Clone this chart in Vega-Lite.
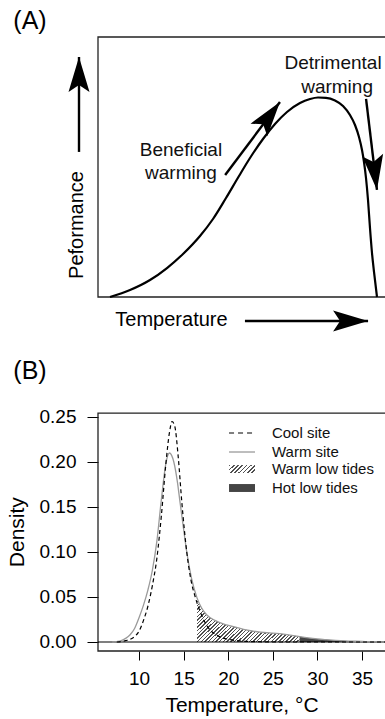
{
  "$schema": "https://vega.github.io/schema/vega-lite/v6.json",
  "width": 287,
  "height": 614,
  "autosize": {"type": "none"},
  "padding": {"left": 98, "top": 37, "right": 0, "bottom": 68},
  "config": {"font": "Liberation Sans", "view": {"stroke": null}, "text": {"font": "Liberation Sans"}},
  "datasets": {
    "boxA": [{"x": 0, "x2": 110, "y": 0, "y2": 100}],
    "curveA": [
      {"x": 4.18, "y": 0}, {"x": 11.15, "y": 2.69}, {"x": 18.12, "y": 6.54}, {"x": 24.04, "y": 11.15},
      {"x": 29.62, "y": 16.54}, {"x": 35.54, "y": 23.46}, {"x": 40.07, "y": 30.0}, {"x": 44.6, "y": 38.08},
      {"x": 49.13, "y": 46.54}, {"x": 52.96, "y": 53.46}, {"x": 57.49, "y": 60.77}, {"x": 61.67, "y": 66.54},
      {"x": 65.85, "y": 71.15}, {"x": 70.38, "y": 74.62}, {"x": 73.87, "y": 76.15}, {"x": 76.66, "y": 76.73},
      {"x": 79.44, "y": 76.62}, {"x": 82.58, "y": 75.58}, {"x": 85.37, "y": 73.46}, {"x": 87.8, "y": 70.0},
      {"x": 89.55, "y": 66.15}, {"x": 90.94, "y": 61.54}, {"x": 91.99, "y": 56.54}, {"x": 92.68, "y": 51.92},
      {"x": 93.38, "y": 45.77}, {"x": 94.08, "y": 37.31}, {"x": 94.77, "y": 26.54}, {"x": 95.47, "y": 16.92},
      {"x": 96.17, "y": 9.62}, {"x": 97.21, "y": 0}
    ],
    "arrowsA": [
      {"x": -6.62, "y": 55.8, "x2": -6.62, "y2": 92.3},
      {"x": 51.2, "y": -9.23, "x2": 94.1, "y2": -9.23},
      {"x": 44.3, "y": 46.9, "x2": 63.4, "y2": 75},
      {"x": 93.4, "y": 76.2, "x2": 97.2, "y2": 41.2}
    ],
    "headsA": [
      {"x": -6.62, "y": 92.3, "dir": 0},
      {"x": 94.1, "y": -9.23, "dir": 90},
      {"x": 63.4, "y": 75, "dir": 37},
      {"x": 97.2, "y": 41.2, "dir": 173}
    ],
    "labelsA": [
      {"x": -23.7, "y": 106.2, "text": "(A)", "role": "panel"},
      {"x": 25.6, "y": -8.8, "text": "Temperature", "role": "axis"},
      {"x": -7.3, "y": 27.7, "text": "Peformance", "role": "axisv"},
      {"x": 28.9, "y": 56.5, "text": "Beneficial", "role": "note"},
      {"x": 28.9, "y": 47.7, "text": "warming", "role": "note"},
      {"x": 81.9, "y": 90, "text": "Detrimental", "role": "note"},
      {"x": 83.3, "y": 80.8, "text": "warming", "role": "note"}
    ],
    "boxB": [{"x": 5.4, "x2": 45, "y": -0.01, "y2": 0.2544}],
    "cool": [
      {"x": 7.5, "y": 0}, {"x": 8, "y": 0.0005}, {"x": 8.5, "y": 0.0015}, {"x": 9, "y": 0.003},
      {"x": 9.5, "y": 0.006}, {"x": 10, "y": 0.012}, {"x": 10.5, "y": 0.024}, {"x": 11, "y": 0.04},
      {"x": 11.5, "y": 0.063}, {"x": 12, "y": 0.093}, {"x": 12.5, "y": 0.14}, {"x": 13, "y": 0.197},
      {"x": 13.4, "y": 0.232}, {"x": 13.7, "y": 0.245}, {"x": 14, "y": 0.24}, {"x": 14.4, "y": 0.205},
      {"x": 14.8, "y": 0.155}, {"x": 15.35, "y": 0.1}, {"x": 15.8, "y": 0.07}, {"x": 16.3, "y": 0.05},
      {"x": 16.8, "y": 0.035}, {"x": 17.5, "y": 0.02}, {"x": 18, "y": 0.013}, {"x": 18.5, "y": 0.009},
      {"x": 19, "y": 0.006}, {"x": 20, "y": 0.003}, {"x": 21, "y": 0.0015}, {"x": 22, "y": 0.0007},
      {"x": 24, "y": 0.0002}, {"x": 26, "y": 0}, {"x": 38, "y": 0}
    ],
    "warm": [
      {"x": 7, "y": 0}, {"x": 7.5, "y": 0.0005}, {"x": 8, "y": 0.0015}, {"x": 8.5, "y": 0.004},
      {"x": 9, "y": 0.008}, {"x": 9.5, "y": 0.015}, {"x": 10, "y": 0.027}, {"x": 10.5, "y": 0.041},
      {"x": 11, "y": 0.058}, {"x": 11.5, "y": 0.08}, {"x": 12, "y": 0.112}, {"x": 12.5, "y": 0.158},
      {"x": 13, "y": 0.198}, {"x": 13.4, "y": 0.21}, {"x": 13.9, "y": 0.2}, {"x": 14.3, "y": 0.178},
      {"x": 14.6, "y": 0.155}, {"x": 15, "y": 0.125}, {"x": 15.35, "y": 0.1}, {"x": 15.9, "y": 0.07},
      {"x": 16.5, "y": 0.049}, {"x": 17, "y": 0.038}, {"x": 17.6, "y": 0.03}, {"x": 18.5, "y": 0.024},
      {"x": 19.8, "y": 0.019}, {"x": 21, "y": 0.016}, {"x": 22, "y": 0.0135}, {"x": 23.6, "y": 0.011},
      {"x": 25, "y": 0.0098}, {"x": 26, "y": 0.009}, {"x": 27.3, "y": 0.0072}, {"x": 28, "y": 0.006},
      {"x": 29, "y": 0.0045}, {"x": 30, "y": 0.0034}, {"x": 31, "y": 0.0026}, {"x": 32, "y": 0.0019},
      {"x": 33, "y": 0.0013}, {"x": 34, "y": 0.0009}, {"x": 35, "y": 0.0006}, {"x": 36, "y": 0.0004},
      {"x": 37, "y": 0.0002}, {"x": 38, "y": 0.0001}
    ],
    "legendLines": [
      {"x": 20.09, "x2": 23.0, "y": 0.2322, "series": "Cool site"},
      {"x": 20.09, "x2": 23.0, "y": 0.2111, "series": "Warm site"}
    ],
    "legendBoxes": [
      {"x": 20.09, "x2": 23.0, "y": 0.1878, "y2": 0.1966, "series": "Warm low tides"},
      {"x": 20.09, "x2": 23.0, "y": 0.1667, "y2": 0.1755, "series": "Hot low tides"}
    ],
    "legendText": [
      {"x": 24.9, "y": 0.2322, "text": "Cool site"},
      {"x": 24.9, "y": 0.2111, "text": "Warm site"},
      {"x": 24.9, "y": 0.1922, "text": "Warm low tides"},
      {"x": 24.9, "y": 0.1711, "text": "Hot low tides"}
    ],
    "labelsB": [
      {"x": -2.22, "y": 0.301, "text": "(B)", "role": "panel"},
      {"x": -3.57, "y": 0.122, "text": "Density", "role": "axisv"}
    ]
  },
  "resolve": {"scale": {"x": "independent", "y": "independent"}},
  "layer": [
    {
      "encoding": {
        "x": {"field": "x", "type": "quantitative", "scale": {"domain": [0, 100], "nice": false, "zero": false}, "axis": null},
        "y": {"field": "y", "type": "quantitative", "scale": {"domain": [-136.15, 100], "nice": false, "zero": false}, "axis": null}
      },
      "layer": [
        {"data": {"name": "boxA"}, "mark": {"type": "rect", "fill": "transparent", "stroke": "#222", "strokeWidth": 1.3},
         "encoding": {"x2": {"field": "x2"}, "y2": {"field": "y2"}}},
        {"data": {"name": "curveA"}, "mark": {"type": "line", "color": "black", "strokeWidth": 2.2, "interpolate": "monotone"}},
        {"data": {"name": "arrowsA"}, "mark": {"type": "rule", "color": "black", "strokeWidth": 2.4},
         "encoding": {"x2": {"field": "x2"}, "y2": {"field": "y2"}}},
        {"data": {"name": "headsA"}, "mark": {"type": "point", "shape": "M0,0L0.6,2L0,1.6L-0.6,2Z", "filled": true, "color": "black", "opacity": 1, "size": 1225, "strokeWidth": 0},
         "encoding": {"angle": {"field": "dir", "type": "quantitative", "scale": null}}},
        {"data": {"name": "labelsA"}, "transform": [{"filter": "datum.role === 'panel'"}],
         "mark": {"type": "text", "fontSize": 25, "align": "center", "baseline": "middle", "color": "black"},
         "encoding": {"text": {"field": "text"}}},
        {"data": {"name": "labelsA"}, "transform": [{"filter": "datum.role === 'axis'"}],
         "mark": {"type": "text", "fontSize": 20, "align": "center", "baseline": "middle", "color": "black"},
         "encoding": {"text": {"field": "text"}}},
        {"data": {"name": "labelsA"}, "transform": [{"filter": "datum.role === 'axisv'"}],
         "mark": {"type": "text", "fontSize": 20, "align": "center", "baseline": "middle", "angle": 270, "color": "black"},
         "encoding": {"text": {"field": "text"}}},
        {"data": {"name": "labelsA"}, "transform": [{"filter": "datum.role === 'note'"}],
         "mark": {"type": "text", "fontSize": 19, "align": "center", "baseline": "middle", "color": "#111"},
         "encoding": {"text": {"field": "text"}}}
      ]
    },
    {
      "encoding": {
        "x": {"field": "x", "type": "quantitative", "scale": {"domain": [5.4, 37.575], "nice": false, "zero": false},
              "axis": {"orient": "bottom", "values": [10, 15, 20, 25, 30, 35], "domain": false, "grid": false,
                       "tickColor": "black", "tickSize": 9, "tickWidth": 1, "labelFontSize": 19, "labelColor": "black",
                       "labelPadding": 9, "labelFlush": false, "labelOverlap": false,
                       "title": "Temperature, °C", "titleFontSize": 21, "titleFontWeight": "normal", "titleColor": "black", "titlePadding": 6}},
        "y": {"field": "y", "type": "quantitative", "scale": {"domain": [-0.01, 0.6722], "nice": false, "zero": false},
              "axis": {"orient": "left", "values": [0, 0.05, 0.1, 0.15, 0.2, 0.25], "format": ".2f", "domain": false, "grid": false,
                       "tickColor": "black", "tickSize": 11, "tickWidth": 1, "labelFontSize": 19, "labelColor": "black",
                       "labelPadding": 11, "labelFlush": false, "labelOverlap": false, "title": null}}
      },
      "layer": [
        {"data": {"name": "boxB"}, "mark": {"type": "rect", "fill": "transparent", "stroke": "#222", "strokeWidth": 1.3},
         "encoding": {"x2": {"field": "x2"}, "y2": {"field": "y2"}}},
        {"data": {"name": "warm"}, "transform": [{"filter": "datum.x >= 16.5 && datum.x <= 28"}],
         "mark": {"type": "area", "interpolate": "monotone",
                  "fill": {"gradient": "linear", "x1": 0, "y1": 0, "x2": 1.207, "y2": 0.529, "stops": [
                    {"offset": 0, "color": "#505050"}, {"offset": 0.01, "color": "#505050"}, {"offset": 0.01, "color": "#ffffff"}, {"offset": 0.025, "color": "#ffffff"},
                    {"offset": 0.025, "color": "#505050"}, {"offset": 0.035, "color": "#505050"}, {"offset": 0.035, "color": "#ffffff"}, {"offset": 0.05, "color": "#ffffff"},
                    {"offset": 0.05, "color": "#505050"}, {"offset": 0.06, "color": "#505050"}, {"offset": 0.06, "color": "#ffffff"}, {"offset": 0.075, "color": "#ffffff"},
                    {"offset": 0.075, "color": "#505050"}, {"offset": 0.085, "color": "#505050"}, {"offset": 0.085, "color": "#ffffff"}, {"offset": 0.1, "color": "#ffffff"},
                    {"offset": 0.1, "color": "#505050"}, {"offset": 0.11, "color": "#505050"}, {"offset": 0.11, "color": "#ffffff"}, {"offset": 0.125, "color": "#ffffff"},
                    {"offset": 0.125, "color": "#505050"}, {"offset": 0.135, "color": "#505050"}, {"offset": 0.135, "color": "#ffffff"}, {"offset": 0.15, "color": "#ffffff"},
                    {"offset": 0.15, "color": "#505050"}, {"offset": 0.16, "color": "#505050"}, {"offset": 0.16, "color": "#ffffff"}, {"offset": 0.175, "color": "#ffffff"},
                    {"offset": 0.175, "color": "#505050"}, {"offset": 0.185, "color": "#505050"}, {"offset": 0.185, "color": "#ffffff"}, {"offset": 0.2, "color": "#ffffff"},
                    {"offset": 0.2, "color": "#505050"}, {"offset": 0.21, "color": "#505050"}, {"offset": 0.21, "color": "#ffffff"}, {"offset": 0.225, "color": "#ffffff"},
                    {"offset": 0.225, "color": "#505050"}, {"offset": 0.235, "color": "#505050"}, {"offset": 0.235, "color": "#ffffff"}, {"offset": 0.25, "color": "#ffffff"},
                    {"offset": 0.25, "color": "#505050"}, {"offset": 0.26, "color": "#505050"}, {"offset": 0.26, "color": "#ffffff"}, {"offset": 0.275, "color": "#ffffff"},
                    {"offset": 0.275, "color": "#505050"}, {"offset": 0.285, "color": "#505050"}, {"offset": 0.285, "color": "#ffffff"}, {"offset": 0.3, "color": "#ffffff"},
                    {"offset": 0.3, "color": "#505050"}, {"offset": 0.31, "color": "#505050"}, {"offset": 0.31, "color": "#ffffff"}, {"offset": 0.325, "color": "#ffffff"},
                    {"offset": 0.325, "color": "#505050"}, {"offset": 0.335, "color": "#505050"}, {"offset": 0.335, "color": "#ffffff"}, {"offset": 0.35, "color": "#ffffff"},
                    {"offset": 0.35, "color": "#505050"}, {"offset": 0.36, "color": "#505050"}, {"offset": 0.36, "color": "#ffffff"}, {"offset": 0.375, "color": "#ffffff"},
                    {"offset": 0.375, "color": "#505050"}, {"offset": 0.385, "color": "#505050"}, {"offset": 0.385, "color": "#ffffff"}, {"offset": 0.4, "color": "#ffffff"},
                    {"offset": 0.4, "color": "#505050"}, {"offset": 0.41, "color": "#505050"}, {"offset": 0.41, "color": "#ffffff"}, {"offset": 0.425, "color": "#ffffff"},
                    {"offset": 0.425, "color": "#505050"}, {"offset": 0.435, "color": "#505050"}, {"offset": 0.435, "color": "#ffffff"}, {"offset": 0.45, "color": "#ffffff"},
                    {"offset": 0.45, "color": "#505050"}, {"offset": 0.46, "color": "#505050"}, {"offset": 0.46, "color": "#ffffff"}, {"offset": 0.475, "color": "#ffffff"},
                    {"offset": 0.475, "color": "#505050"}, {"offset": 0.485, "color": "#505050"}, {"offset": 0.485, "color": "#ffffff"}, {"offset": 0.5, "color": "#ffffff"},
                    {"offset": 0.5, "color": "#505050"}, {"offset": 0.51, "color": "#505050"}, {"offset": 0.51, "color": "#ffffff"}, {"offset": 0.525, "color": "#ffffff"},
                    {"offset": 0.525, "color": "#505050"}, {"offset": 0.535, "color": "#505050"}, {"offset": 0.535, "color": "#ffffff"}, {"offset": 0.55, "color": "#ffffff"},
                    {"offset": 0.55, "color": "#505050"}, {"offset": 0.56, "color": "#505050"}, {"offset": 0.56, "color": "#ffffff"}, {"offset": 0.575, "color": "#ffffff"},
                    {"offset": 0.575, "color": "#505050"}, {"offset": 0.585, "color": "#505050"}, {"offset": 0.585, "color": "#ffffff"}, {"offset": 0.6, "color": "#ffffff"},
                    {"offset": 0.6, "color": "#505050"}, {"offset": 0.61, "color": "#505050"}, {"offset": 0.61, "color": "#ffffff"}, {"offset": 0.625, "color": "#ffffff"},
                    {"offset": 0.625, "color": "#505050"}, {"offset": 0.635, "color": "#505050"}, {"offset": 0.635, "color": "#ffffff"}, {"offset": 0.65, "color": "#ffffff"},
                    {"offset": 0.65, "color": "#505050"}, {"offset": 0.66, "color": "#505050"}, {"offset": 0.66, "color": "#ffffff"}, {"offset": 0.675, "color": "#ffffff"},
                    {"offset": 0.675, "color": "#505050"}, {"offset": 0.685, "color": "#505050"}, {"offset": 0.685, "color": "#ffffff"}, {"offset": 0.7, "color": "#ffffff"},
                    {"offset": 0.7, "color": "#505050"}, {"offset": 0.71, "color": "#505050"}, {"offset": 0.71, "color": "#ffffff"}, {"offset": 0.725, "color": "#ffffff"},
                    {"offset": 0.725, "color": "#505050"}, {"offset": 0.735, "color": "#505050"}, {"offset": 0.735, "color": "#ffffff"}, {"offset": 0.75, "color": "#ffffff"},
                    {"offset": 0.75, "color": "#505050"}, {"offset": 0.76, "color": "#505050"}, {"offset": 0.76, "color": "#ffffff"}, {"offset": 0.775, "color": "#ffffff"},
                    {"offset": 0.775, "color": "#505050"}, {"offset": 0.785, "color": "#505050"}, {"offset": 0.785, "color": "#ffffff"}, {"offset": 0.8, "color": "#ffffff"},
                    {"offset": 0.8, "color": "#505050"}, {"offset": 0.81, "color": "#505050"}, {"offset": 0.81, "color": "#ffffff"}, {"offset": 0.825, "color": "#ffffff"},
                    {"offset": 0.825, "color": "#505050"}, {"offset": 0.835, "color": "#505050"}, {"offset": 0.835, "color": "#ffffff"}, {"offset": 0.85, "color": "#ffffff"},
                    {"offset": 0.85, "color": "#505050"}, {"offset": 0.86, "color": "#505050"}, {"offset": 0.86, "color": "#ffffff"}, {"offset": 0.875, "color": "#ffffff"},
                    {"offset": 0.875, "color": "#505050"}, {"offset": 0.885, "color": "#505050"}, {"offset": 0.885, "color": "#ffffff"}, {"offset": 0.9, "color": "#ffffff"},
                    {"offset": 0.9, "color": "#505050"}, {"offset": 0.91, "color": "#505050"}, {"offset": 0.91, "color": "#ffffff"}, {"offset": 0.925, "color": "#ffffff"},
                    {"offset": 0.925, "color": "#505050"}, {"offset": 0.935, "color": "#505050"}, {"offset": 0.935, "color": "#ffffff"}, {"offset": 0.95, "color": "#ffffff"},
                    {"offset": 0.95, "color": "#505050"}, {"offset": 0.96, "color": "#505050"}, {"offset": 0.96, "color": "#ffffff"}, {"offset": 0.975, "color": "#ffffff"},
                    {"offset": 0.975, "color": "#505050"}, {"offset": 0.985, "color": "#505050"}, {"offset": 0.985, "color": "#ffffff"}, {"offset": 1, "color": "#ffffff"}
                  ]}},
         "encoding": {"y2": {"datum": 0}}},
        {"data": {"name": "warm"}, "transform": [{"filter": "datum.x >= 28"}],
         "mark": {"type": "area", "interpolate": "monotone", "fill": "#444444"},
         "encoding": {"y2": {"datum": 0}}},
        {"data": {"name": "boxB"}, "mark": {"type": "rule", "color": "black", "strokeWidth": 1.1},
         "encoding": {"x2": {"field": "x2"}, "y": {"datum": 0}}},
        {"data": {"name": "warm"}, "mark": {"type": "line", "color": "#9a9a9a", "strokeWidth": 1.3, "interpolate": "monotone"}},
        {"data": {"name": "cool"}, "mark": {"type": "line", "color": "black", "strokeWidth": 1.2, "strokeDash": [4, 3], "interpolate": "monotone"}},
        {"data": {"name": "legendLines"}, "transform": [{"filter": "datum.series === 'Cool site'"}],
         "mark": {"type": "rule", "color": "black", "strokeWidth": 1.2, "strokeDash": [5, 4]},
         "encoding": {"x2": {"field": "x2"}}},
        {"data": {"name": "legendLines"}, "transform": [{"filter": "datum.series === 'Warm site'"}],
         "mark": {"type": "rule", "color": "#9a9a9a", "strokeWidth": 1.3},
         "encoding": {"x2": {"field": "x2"}}},
        {"data": {"name": "legendBoxes"}, "transform": [{"filter": "datum.series === 'Warm low tides'"}],
         "mark": {"type": "rect",
                  "fill": {"gradient": "linear", "x1": 0, "y1": 0, "x2": 1.195, "y2": 0.368, "stops": [
                    {"offset": 0, "color": "#505050"}, {"offset": 0.05, "color": "#505050"}, {"offset": 0.05, "color": "#ffffff"}, {"offset": 0.125, "color": "#ffffff"},
                    {"offset": 0.125, "color": "#505050"}, {"offset": 0.175, "color": "#505050"}, {"offset": 0.175, "color": "#ffffff"}, {"offset": 0.25, "color": "#ffffff"},
                    {"offset": 0.25, "color": "#505050"}, {"offset": 0.3, "color": "#505050"}, {"offset": 0.3, "color": "#ffffff"}, {"offset": 0.375, "color": "#ffffff"},
                    {"offset": 0.375, "color": "#505050"}, {"offset": 0.425, "color": "#505050"}, {"offset": 0.425, "color": "#ffffff"}, {"offset": 0.5, "color": "#ffffff"},
                    {"offset": 0.5, "color": "#505050"}, {"offset": 0.55, "color": "#505050"}, {"offset": 0.55, "color": "#ffffff"}, {"offset": 0.625, "color": "#ffffff"},
                    {"offset": 0.625, "color": "#505050"}, {"offset": 0.675, "color": "#505050"}, {"offset": 0.675, "color": "#ffffff"}, {"offset": 0.75, "color": "#ffffff"},
                    {"offset": 0.75, "color": "#505050"}, {"offset": 0.8, "color": "#505050"}, {"offset": 0.8, "color": "#ffffff"}, {"offset": 0.875, "color": "#ffffff"},
                    {"offset": 0.875, "color": "#505050"}, {"offset": 0.925, "color": "#505050"}, {"offset": 0.925, "color": "#ffffff"}, {"offset": 1, "color": "#ffffff"}
                  ]}},
         "encoding": {"x2": {"field": "x2"}, "y2": {"field": "y2"}}},
        {"data": {"name": "legendBoxes"}, "transform": [{"filter": "datum.series === 'Hot low tides'"}],
         "mark": {"type": "rect", "fill": "#444444"},
         "encoding": {"x2": {"field": "x2"}, "y2": {"field": "y2"}}},
        {"data": {"name": "legendText"},
         "mark": {"type": "text", "fontSize": 15, "align": "left", "baseline": "middle", "color": "#111"},
         "encoding": {"text": {"field": "text"}}},
        {"data": {"name": "labelsB"}, "transform": [{"filter": "datum.role === 'panel'"}],
         "mark": {"type": "text", "fontSize": 25, "align": "center", "baseline": "middle", "color": "black"},
         "encoding": {"text": {"field": "text"}}},
        {"data": {"name": "labelsB"}, "transform": [{"filter": "datum.role === 'axisv'"}],
         "mark": {"type": "text", "fontSize": 21, "align": "center", "baseline": "middle", "angle": 270, "color": "black"},
         "encoding": {"text": {"field": "text"}}}
      ]
    }
  ]
}
